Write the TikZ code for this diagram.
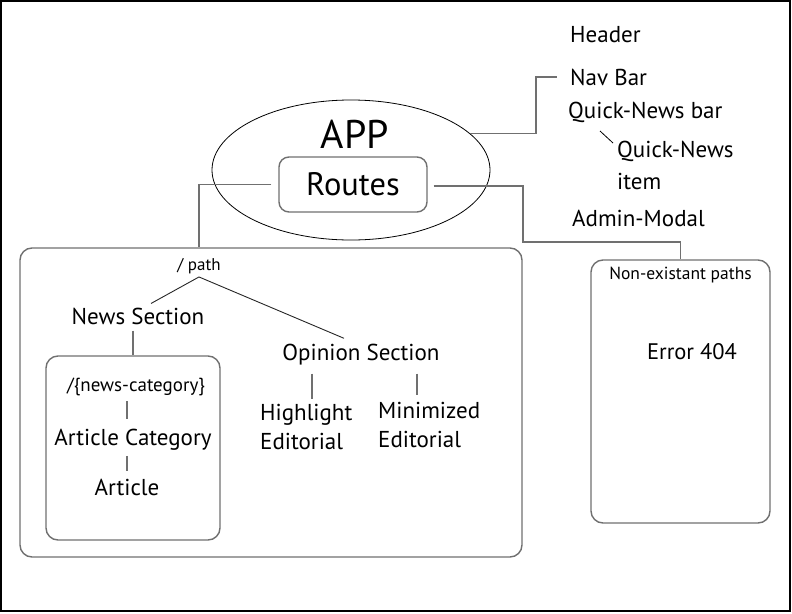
\documentclass[tikz,border=0pt]{standalone}
\usepackage{fontspec}
\setmainfont{PT Sans}
\usetikzlibrary{shapes.geometric}
\usetikzlibrary{positioning}
\definecolor{linegray}{HTML}{707070}
\tikzstyle{link} = [draw=linegray, line width=1.4pt]
\tikzstyle{branch} = [draw=black!85, line width=0.9pt]
\tikzstyle{panel} = [draw=linegray, line width=1.4pt, rounded corners=12pt]
\tikzstyle{txt} = [inner sep=1pt, font=\fontsize{23}{29}\selectfont]
\tikzstyle{smalltxt} = [inner sep=1pt, font=\fontsize{17}{20}\selectfont]

\begin{document}
\begin{tikzpicture}[x=1pt, y=-1pt]
  \useasboundingbox (0,0) rectangle (792,613);
  % Frame
  \draw[line width=1.5pt] (1,1) rectangle (790,611);
  % App and routes
  \node[ellipse, draw, line width=0.8pt, minimum width=278pt, minimum height=140pt] (app) at (351,170) {};
  \node[inner sep=0pt, font=\fontsize{40}{44}\selectfont] (apptitle) at (355,134) {APP};
  \node[panel, rounded corners=10pt, minimum width=148pt, minimum height=55pt,
        font=\fontsize{32.5}{36}\selectfont] (routes) at (353,184.5) {Routes};
  % Header parts
  \node[txt, anchor=west] (header) at (569,35) {Header};
  \node[txt, anchor=west] (navbar) at (569,77) {Nav Bar};
  \node[txt, anchor=west] (qnbar) at (567,112) {Quick-News bar};
  \node[txt, anchor=west, align=left, font=\fontsize{23}{32}\selectfont] (qnitem) at (616,165) {Quick-News\\item};
  \node[txt, anchor=west] (admin) at (571,218) {Admin-Modal};
  % Panels
  \node[panel, minimum width=502pt, minimum height=309pt] (leftbox) at (271,402.5) {};
  \node[panel, minimum width=174pt, minimum height=184pt] (newsbox) at (133,448) {};
  \node[panel, minimum width=179pt, minimum height=263pt] (errbox) at (680.5,391.5) {};
  % Root path tree
  \node[smalltxt] (pathlbl) at (199,266) {/ path};
  \node[txt] (news) at (138,316) {News Section};
  \node[smalltxt, font=\fontsize{19}{22}\selectfont] (newscat) at (136,387) {/\{news-category\}};
  \node[txt] (artcat) at (133,440) {Article Category};
  \node[txt] (article) at (127,487) {Article};
  \node[txt] (opinion) at (361,355) {Opinion Section};
  \node[txt, anchor=west, align=left] (highlight) at (259,427) {Highlight\\Editorial};
  \node[txt, anchor=west, align=left] (minimized) at (377,425) {Minimized\\Editorial};
  % Fallback
  \node[smalltxt, font=\fontsize{17.5}{21}\selectfont] (nonexist) at (680.5,275) {Non-existant paths};
  \node[txt, font=\fontsize{22.5}{26}\selectfont] (error) at (692,352) {Error 404};
  % Connectors
  \coordinate (bend) at (523,242);
  \draw[link] (app.17) -| ([xshift=-33pt]navbar.west) -- ([xshift=-12pt]navbar.west);
  \draw[line width=0.8pt] ([xshift=33pt,yshift=-19pt]qnbar.west) -- ([xshift=-3pt,yshift=22pt]qnitem.west);
  \draw[link] ([xshift=-7pt]routes.west) -| (pathlbl |- leftbox.north);
  \draw[link] ([xshift=6pt,yshift=-1.5pt]routes.east) -| (bend) -| (errbox.north);
  \draw[branch] ([yshift=-2pt]pathlbl.south) -- ([xshift=13pt,yshift=3pt]news.north);
  \draw[branch] ([yshift=-2pt]pathlbl.south) -- ([xshift=-17pt,yshift=5pt]opinion.north);
  \draw[link, shorten <=5pt] (news.south -| newsbox.north) -- (newsbox.north);
  \draw[link, shorten <=4pt, shorten >=9pt] (newscat.south -| article) -- (artcat.north -| article);
  \draw[link, shorten <=4pt, shorten >=6pt] (artcat.south -| article) -- (article.north);
  \draw[link, shorten <=7pt, shorten >=4pt] ([xshift=-49pt]opinion.south) -- ([xshift=-49pt]opinion.south |- highlight.north);
  \draw[link, shorten <=7pt, shorten >=6pt] ([xshift=56pt]opinion.south) -- ([xshift=56pt]opinion.south |- minimized.north);
\end{tikzpicture}
\end{document}
